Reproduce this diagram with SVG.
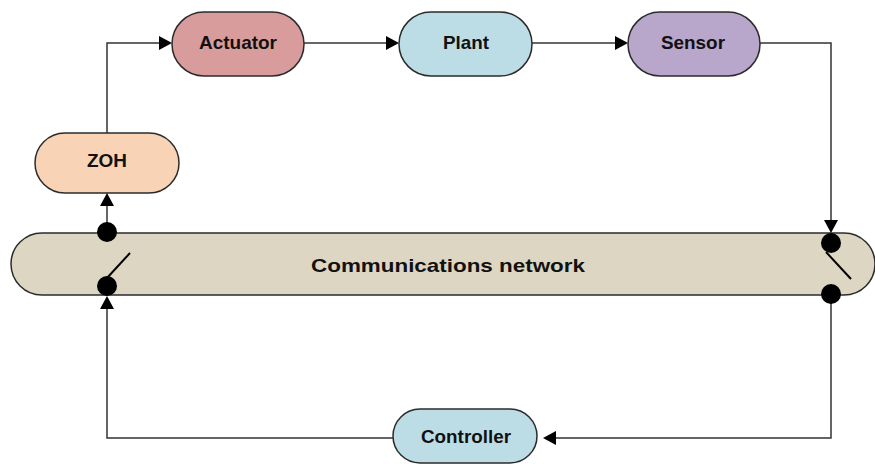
<svg xmlns="http://www.w3.org/2000/svg" width="875" height="464" viewBox="0 0 875 464">
<style>
.node{stroke:#2b2b2b;stroke-width:1.5}
.lbl{font-family:"Liberation Sans",Arial,sans-serif;font-weight:bold;font-size:19px;fill:#111;text-anchor:middle}
.wire{fill:none;stroke:#333;stroke-width:1.5}
.head{fill:#000}
.dot{fill:#000}
.sw{stroke:#000;stroke-width:2}
</style>
<rect width="875" height="464" fill="#fff"/>
<g id="network">
<rect class="node" x="11" y="233" width="864" height="62" rx="31" fill="#DDD6C2"/>
<text class="lbl" x="448" y="272" textLength="274" lengthAdjust="spacingAndGlyphs">Communications network</text>
</g>
<g id="actuator">
<rect class="node" x="172" y="12" width="132" height="64" rx="32" fill="#D99C9C"/>
<text class="lbl" x="238" y="49" textLength="78" lengthAdjust="spacingAndGlyphs">Actuator</text>
</g>
<g id="plant">
<rect class="node" x="399" y="12" width="133" height="64" rx="32" fill="#BDDDE6"/>
<text class="lbl" x="466" y="49" textLength="46" lengthAdjust="spacingAndGlyphs">Plant</text>
</g>
<g id="sensor">
<rect class="node" x="628" y="12" width="132" height="64" rx="32" fill="#B8A6CB"/>
<text class="lbl" x="693" y="49" textLength="64" lengthAdjust="spacingAndGlyphs">Sensor</text>
</g>
<g id="zoh">
<rect class="node" x="35" y="133" width="144" height="60" rx="30" fill="#F9D3B5"/>
<text class="lbl" x="107" y="167" textLength="40" lengthAdjust="spacingAndGlyphs">ZOH</text>
</g>
<g id="controller">
<rect class="node" x="393" y="409" width="144" height="54" rx="27" fill="#BCDDE6"/>
<text class="lbl" x="466" y="443" textLength="90" lengthAdjust="spacingAndGlyphs">Controller</text>
</g>
<g id="connectors">
<path class="wire" d="M107 133 V43 H160"/>
<path class="head" d="M172 43 L159 36 L159 50 Z"/>
<path class="wire" d="M304 43 H388"/>
<path class="head" d="M399 43 L386 36 L386 50 Z"/>
<path class="wire" d="M532 43 H617"/>
<path class="head" d="M628 43 L615 36 L615 50 Z"/>
<path class="wire" d="M760 43 H831 V222"/>
<path class="head" d="M831 233 L824 220 L838 220 Z"/>
<path class="wire" d="M831 294 V438 H555"/>
<path class="head" d="M543 438 L556 431 L556 445 Z"/>
<path class="wire" d="M393 438 H107 V308"/>
<path class="head" d="M107 296 L100 309 L114 309 Z"/>
<path class="wire" d="M107 232 V205"/>
<path class="head" d="M107 193 L100 206 L114 206 Z"/>
<circle class="dot" cx="107" cy="232" r="10"/>
<circle class="dot" cx="107" cy="286" r="10"/>
<line class="sw" x1="107" y1="278" x2="130" y2="253"/>
<circle class="dot" cx="831" cy="243" r="10"/>
<circle class="dot" cx="831" cy="294" r="10"/>
<line class="sw" x1="826" y1="252" x2="851" y2="279"/>
</g>
</svg>
